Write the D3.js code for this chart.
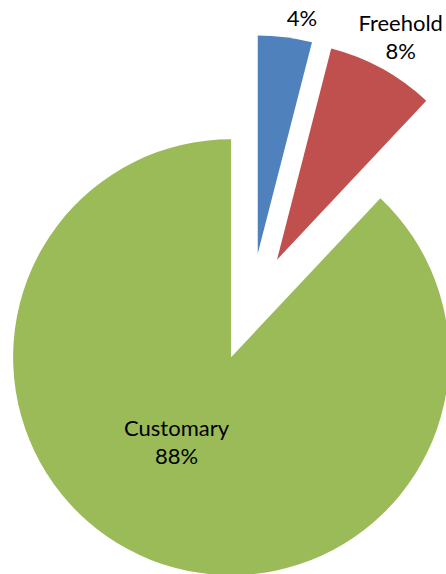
<!DOCTYPE html>
<html><head><meta charset="utf-8">
<script src="https://cdn.jsdelivr.net/npm/d3@7"></script>
<style>html,body{margin:0;padding:0;background:#fff;overflow:hidden}</style>
</head><body>
<svg id="chart" width="446" height="574"></svg>
<script>
const categories = ["", "Freehold", "Customary"];
const values = [4, 8, 88];
const colors = ["#4F81BD", "#C0504D", "#9BBB59"];

const svg = d3.select("#chart");
const cx = 251, cy = 307, r = 218, explode = 54;
const g = svg.append("g").attr("transform", `translate(${cx},${cy})`);

const pie = d3.pie().sort(null).value(d => d.v).startAngle(0);
const arcs = pie(values.map((v, i) => ({v, name: categories[i], color: colors[i]})));
const arc = d3.arc().innerRadius(0).outerRadius(r);

// label layout: angle offset (deg) and radius factor
const labelLayout = [
  {da: 3.4, k: 1.1},
  {da: 0.2, k: 1.17},
  {da: 11.4, k: 0.46}
];

arcs.forEach((a, i) => {
  const mid = (a.startAngle + a.endAngle) / 2;
  const ox = Math.sin(mid) * explode, oy = -Math.cos(mid) * explode;
  const sg = g.append("g").attr("transform", `translate(${ox},${oy})`);
  sg.append("path").attr("d", arc(a)).attr("fill", a.data.color);
  const L = labelLayout[i];
  const la = mid + L.da * Math.PI / 180;
  const lx = Math.sin(la) * r * L.k, ly = -Math.cos(la) * r * L.k;
  const pct = Math.round(a.data.v / d3.sum(values) * 100) + "%";
  const lines = a.data.name ? [a.data.name, pct] : [pct];
  const lh = 28;
  const t = sg.append("text")
    .attr("text-anchor", "middle")
    .attr("font-family", "Lato, 'Noto Sans', sans-serif")
    .attr("font-size", 22)
    .attr("fill", "#000");
  lines.forEach((s, j) => {
    t.append("tspan").attr("x", lx)
      .attr("y", ly + (j - (lines.length - 1) / 2) * lh + 1)
      .attr("dy", "0.35em").text(s);
  });
});
</script>
</body></html>
